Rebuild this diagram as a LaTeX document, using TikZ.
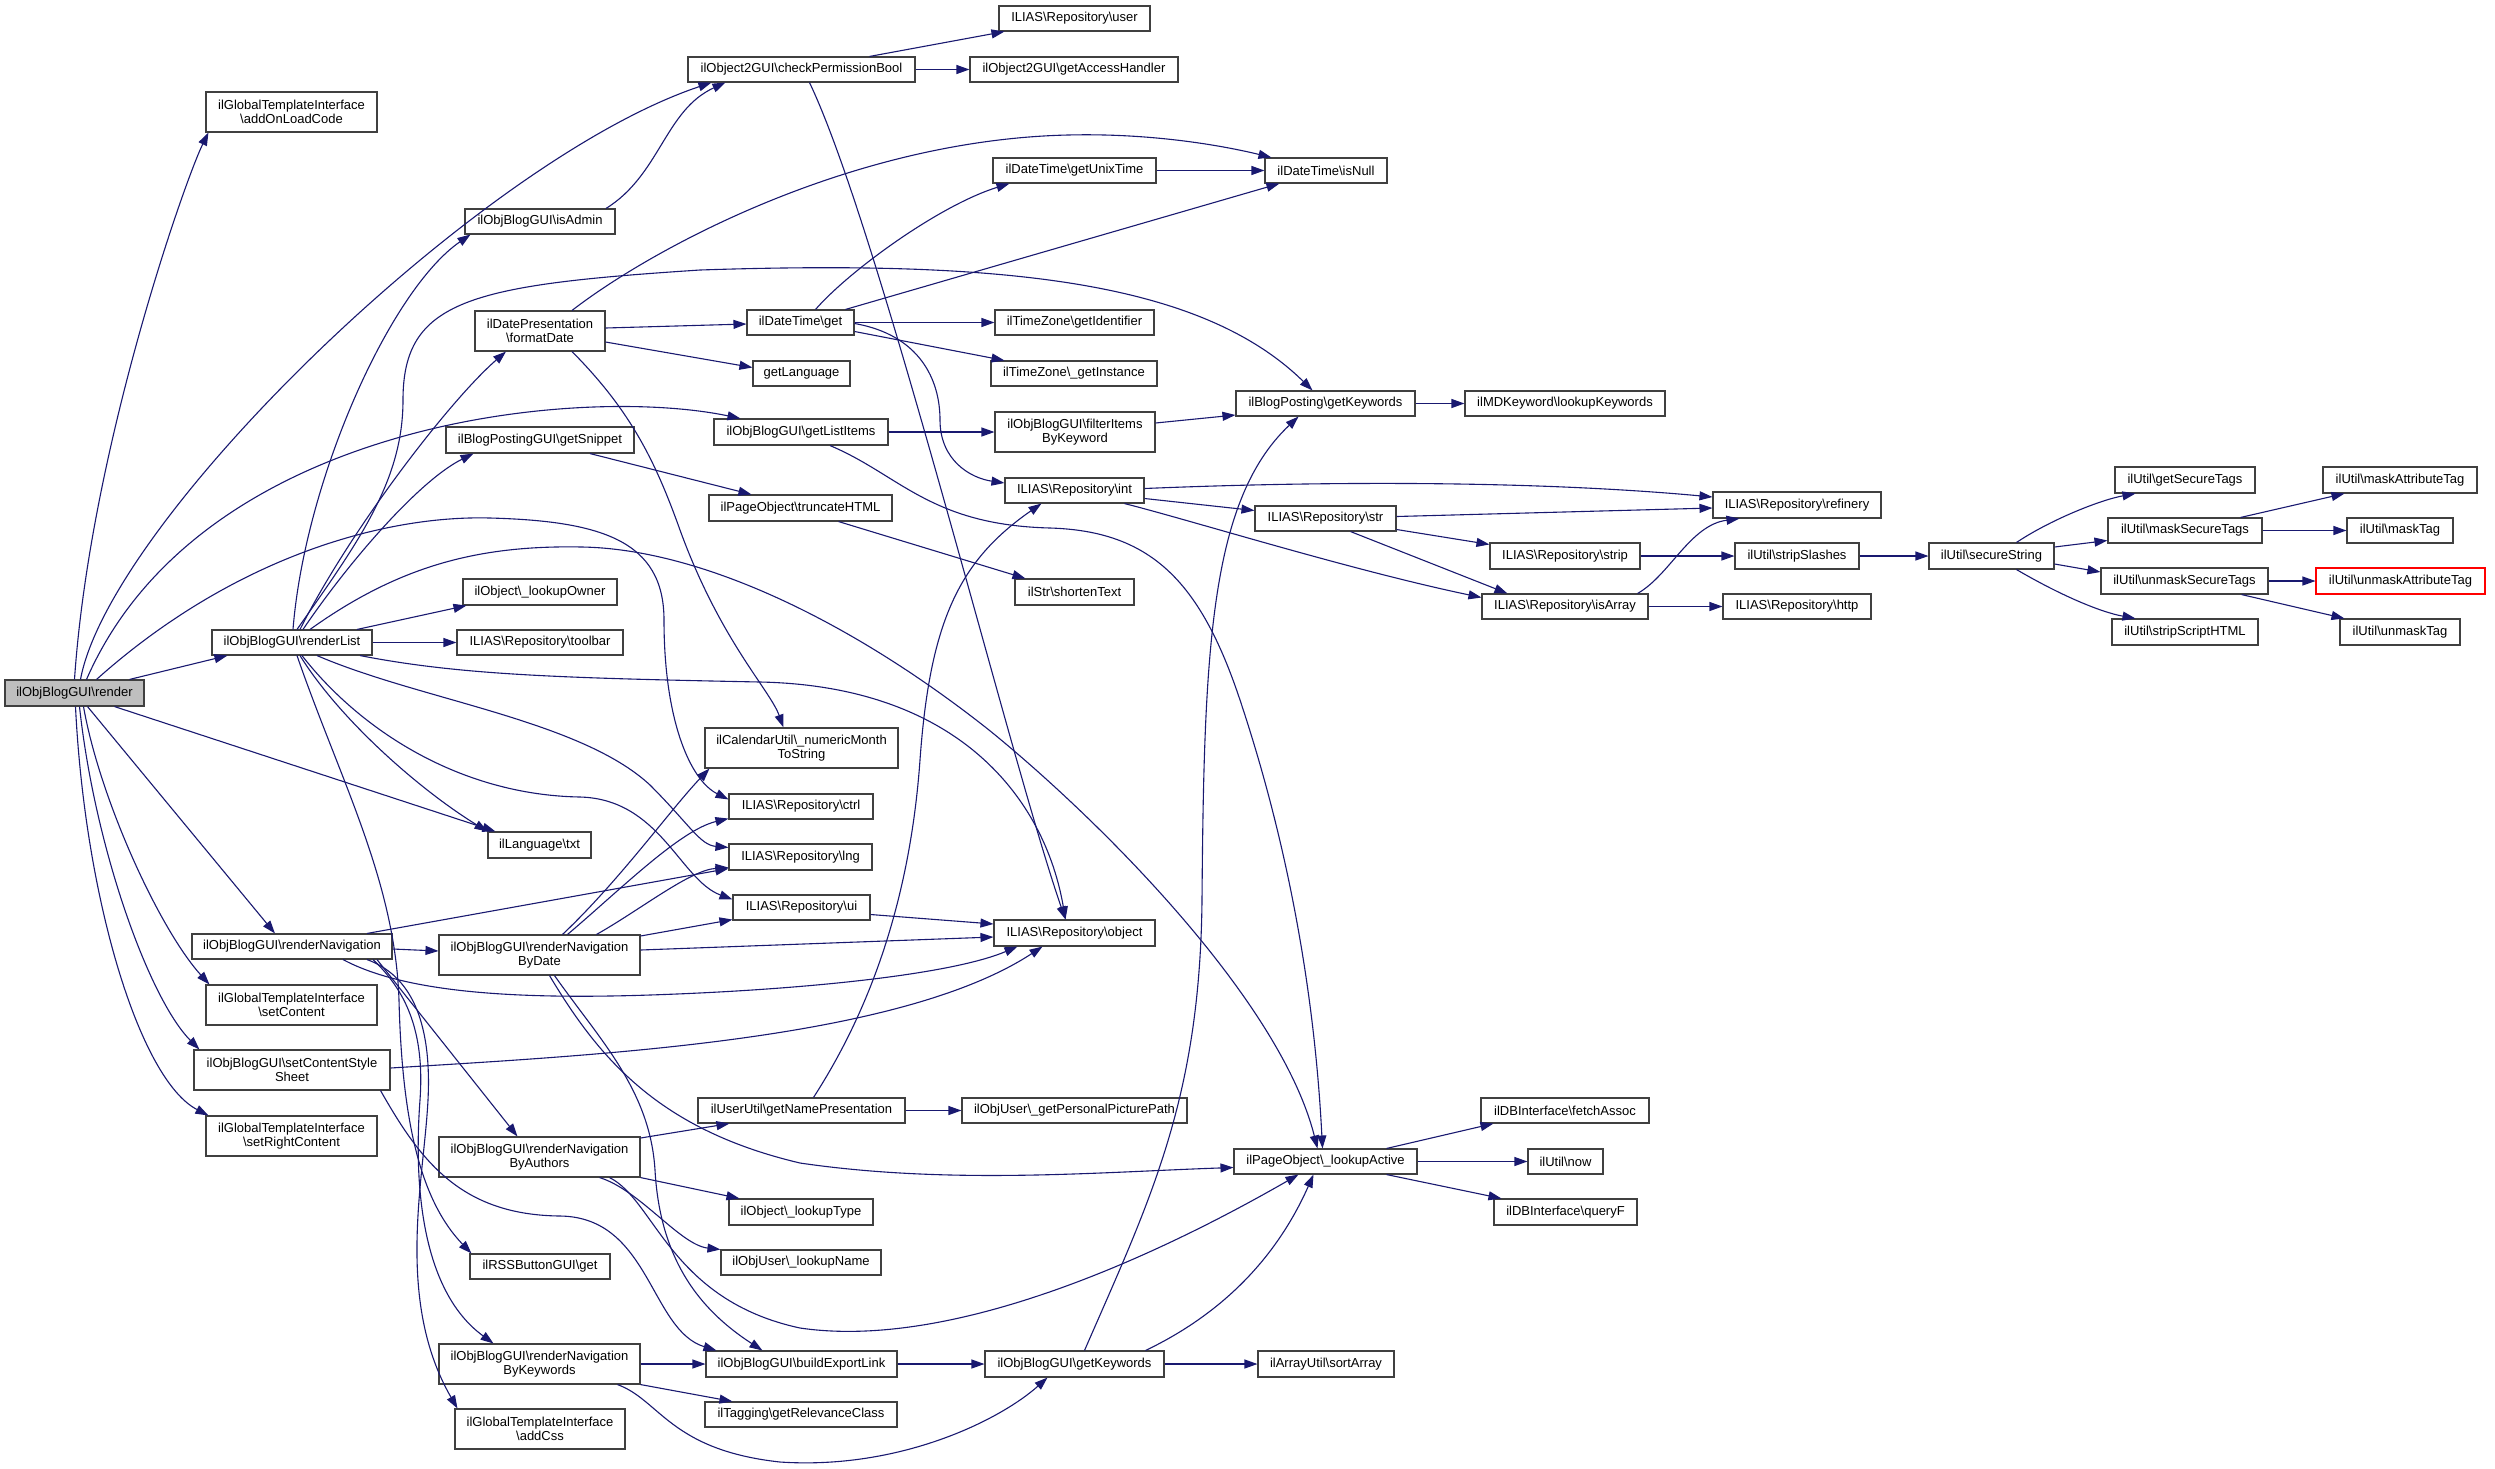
\documentclass[tikz,border=0pt]{standalone}
\usepackage{fontspec}
\setmainfont{Liberation Sans}
\usetikzlibrary{arrows.meta}
\definecolor{edgeblue}{HTML}{191970}
\definecolor{boxline}{HTML}{404040}
\definecolor{rendergray}{HTML}{BFBFBF}
\def\mybs{\textbackslash{}}
\begin{document}
\begin{tikzpicture}[x=1pt,y=-1pt,
  box/.style={draw=boxline,line width=1.1pt,fill=white,inner sep=0pt,align=center,font=\fontsize{13pt}{14.5pt}\selectfont},
  sz/.style 2 args={minimum width=#1pt,minimum height=#2pt},
  e/.style={draw=edgeblue,line width=1.1pt,-{Triangle[length=13pt,width=9pt]}}]
\useasboundingbox[fill=white] (0,0) rectangle (2495,1468);
% nodes
\node[box,sz={139}{26},fill=rendergray] (render) at (74.5,693) {ilObjBlogGUI\mybs render};
\node[box,sz={171}{40}] (addon) at (291.5,112) {ilGlobalTemplateInterface\\ \mybs addOnLoadCode};
\node[box,sz={227}{25}] (checkPerm) at (801.5,69.5) {ilObject2GUI\mybs checkPermissionBool};
\node[box,sz={151}{25}] (user) at (1074.5,18.5) {ILIAS\mybs Repository\mybs user};
\node[box,sz={208}{25}] (access) at (1074,69.5) {ilObject2GUI\mybs getAccessHandler};
\node[box,sz={150}{25}] (isAdmin) at (540,221.5) {ilObjBlogGUI\mybs isAdmin};
\node[box,sz={163}{25}] (unix) at (1074.5,170.5) {ilDateTime\mybs getUnixTime};
\node[box,sz={122}{25}] (isNull) at (1326,170.5) {ilDateTime\mybs isNull};
\node[box,sz={130}{40}] (formatDate) at (540,331) {ilDatePresentation\\ \mybs formatDate};
\node[box,sz={107}{25}] (dtget) at (800.5,322.5) {ilDateTime\mybs get};
\node[box,sz={159}{25}] (ident) at (1074.5,322.5) {ilTimeZone\mybs getIdentifier};
\node[box,sz={166}{25}] (inst) at (1074,373.5) {ilTimeZone\mybs\_getInstance};
\node[box,sz={97}{25}] (getLang) at (801.5,373.5) {getLanguage};
\node[box,sz={174}{26}] (listItems) at (801,432) {ilObjBlogGUI\mybs getListItems};
\node[box,sz={188}{26}] (snippet) at (540,440) {ilBlogPostingGUI\mybs getSnippet};
\node[box,sz={160}{40}] (filter) at (1075,432) {ilObjBlogGUI\mybs filterItems\\ByKeyword};
\node[box,sz={179}{25}] (bpKw) at (1325.5,403.5) {ilBlogPosting\mybs getKeywords};
\node[box,sz={200}{25}] (lkKw) at (1565,403.5) {ilMDKeyword\mybs lookupKeywords};
\node[box,sz={183}{26}] (trunc) at (800.5,508) {ilPageObject\mybs truncateHTML};
\node[box,sz={139}{25}] (int) at (1074.5,490.5) {ILIAS\mybs Repository\mybs int};
\node[box,sz={168}{26}] (refinery) at (1797,505) {ILIAS\mybs Repository\mybs refinery};
\node[box,sz={141}{25}] (str) at (1325.5,518.5) {ILIAS\mybs Repository\mybs str};
\node[box,sz={150}{26}] (strip) at (1565,556) {ILIAS\mybs Repository\mybs strip};
\node[box,sz={124}{26}] (stripSl) at (1797,556) {ilUtil\mybs stripSlashes};
\node[box,sz={125}{26}] (secure) at (1991.5,556) {ilUtil\mybs secureString};
\node[box,sz={166}{25}] (isArray) at (1565,606.5) {ILIAS\mybs Repository\mybs isArray};
\node[box,sz={148}{25}] (http) at (1797,606.5) {ILIAS\mybs Repository\mybs http};
\node[box,sz={140}{26}] (getSec) at (2185,480) {ilUtil\mybs getSecureTags};
\node[box,sz={154}{25}] (maskSec) at (2185,530.5) {ilUtil\mybs maskSecureTags};
\node[box,sz={167}{26}] (unmaskSec) at (2184.5,581) {ilUtil\mybs unmaskSecureTags};
\node[box,sz={146}{26}] (stripScr) at (2185,632) {ilUtil\mybs stripScriptHTML};
\node[box,sz={154}{26}] (maskAttr) at (2400,480) {ilUtil\mybs maskAttributeTag};
\node[box,sz={106}{25}] (maskTag) at (2400,530.5) {ilUtil\mybs maskTag};
\node[box,sz={169}{26},draw=red] (unmaskAttr) at (2400.5,581) {ilUtil\mybs unmaskAttributeTag};
\node[box,sz={120}{26}] (unmaskTag) at (2400,632) {ilUtil\mybs unmaskTag};
\node[box,sz={154}{26}] (owner) at (540,592) {ilObject\mybs\_lookupOwner};
\node[box,sz={160}{25}] (renderList) at (292,642.5) {ilObjBlogGUI\mybs renderList};
\node[box,sz={166}{25}] (toolbar) at (540,642.5) {ILIAS\mybs Repository\mybs toolbar};
\node[box,sz={119}{26}] (shorten) at (1074.5,592) {ilStr\mybs shortenText};
\node[box,sz={193}{40}] (numMonth) at (801.5,748) {ilCalendarUtil\mybs\_numericMonth\\ToString};
\node[box,sz={144}{25}] (ctrl) at (801,806.5) {ILIAS\mybs Repository\mybs ctrl};
\node[box,sz={103}{26}] (txt) at (539.5,845) {ilLanguage\mybs txt};
\node[box,sz={143}{26}] (lng) at (800.5,857) {ILIAS\mybs Repository\mybs lng};
\node[box,sz={137}{25}] (ui) at (801.5,907.5) {ILIAS\mybs Repository\mybs ui};
\node[box,sz={161}{26}] (object) at (1074.5,933) {ILIAS\mybs Repository\mybs object};
\node[box,sz={200}{25}] (renderNav) at (292,946.5) {ilObjBlogGUI\mybs renderNavigation};
\node[box,sz={201}{40}] (byDate) at (539.5,955) {ilObjBlogGUI\mybs renderNavigation\\ByDate};
\node[box,sz={171}{40}] (setContent) at (291.5,1005) {ilGlobalTemplateInterface\\ \mybs setContent};
\node[box,sz={196}{40}] (setCSS) at (292,1070) {ilObjBlogGUI\mybs setContentStyle\\Sheet};
\node[box,sz={171}{40}] (setRight) at (291.5,1136) {ilGlobalTemplateInterface\\ \mybs setRightContent};
\node[box,sz={201}{40}] (byAuthors) at (539.5,1157) {ilObjBlogGUI\mybs renderNavigation\\ByAuthors};
\node[box,sz={207}{25}] (namePres) at (801.5,1110.5) {ilUserUtil\mybs getNamePresentation};
\node[box,sz={225}{25}] (picPath) at (1074.5,1110.5) {ilObjUser\mybs\_getPersonalPicturePath};
\node[box,sz={183}{25}] (lookupActive) at (1325.5,1161.5) {ilPageObject\mybs\_lookupActive};
\node[box,sz={168}{25}] (fetch) at (1565,1110.5) {ilDBInterface\mybs fetchAssoc};
\node[box,sz={75}{25}] (now) at (1565.5,1161.5) {ilUtil\mybs now};
\node[box,sz={143}{26}] (queryF) at (1565.5,1212) {ilDBInterface\mybs queryF};
\node[box,sz={144}{26}] (lookupType) at (801,1212) {ilObject\mybs\_lookupType};
\node[box,sz={160}{25}] (lookupName) at (801,1262.5) {ilObjUser\mybs\_lookupName};
\node[box,sz={140}{25}] (rss) at (540,1266.5) {ilRSSButtonGUI\mybs get};
\node[box,sz={201}{40}] (byKw) at (539.5,1364) {ilObjBlogGUI\mybs renderNavigation\\ByKeywords};
\node[box,sz={191}{26}] (export) at (801.5,1364) {ilObjBlogGUI\mybs buildExportLink};
\node[box,sz={179}{26}] (objKw) at (1074.5,1364) {ilObjBlogGUI\mybs getKeywords};
\node[box,sz={136}{26}] (sortArray) at (1326,1364) {ilArrayUtil\mybs sortArray};
\node[box,sz={192}{25}] (relevance) at (801,1414.5) {ilTagging\mybs getRelevanceClass};
\node[box,sz={170}{40}] (addCss) at (540,1429) {ilGlobalTemplateInterface\\ \mybs addCss};
% edges from render
\draw[e] (render.north) .. controls (90,450) and (185,180) .. ([xshift=3pt]addon.south west);
\draw[e] ([xshift=6pt]render.north) .. controls (110,520) and (480,160) .. ([xshift=24pt]checkPerm.south west);
\draw[e] ([xshift=12pt]render.north) .. controls (200,420) and (580,385) .. ([xshift=27pt]listItems.north west);
\draw[e] ([xshift=22pt]render.north) .. controls (230,560) and (380,515) .. (490,518) .. controls (600,521) and (664,540) .. (664,620) .. controls (664,720) and (690,780) .. ([yshift=-6pt]ctrl.north west);
\draw[e] ([xshift=55pt]render.north) -- ([xshift=16pt]renderList.south west);
\draw[e] ([xshift=40pt]render.south) -- ([xshift=8pt]txt.north west);
\draw[e] ([xshift=13pt]render.south) -- ([xshift=-17pt]renderNav.north);
\draw[e] ([xshift=9pt]render.south) .. controls (100,800) and (160,930) .. ([xshift=4pt]setContent.north west);
\draw[e] ([xshift=5pt]render.south) .. controls (95,850) and (150,1000) .. ([xshift=6pt]setCSS.north west);
\draw[e] ([xshift=1pt]render.south) .. controls (85,900) and (140,1080) .. ([xshift=3pt]setRight.north west);
% checkPermissionBool
\draw[e] ([xshift=66pt]isAdmin.north) .. controls (660,175) and (665,110) .. ([xshift=38pt]checkPerm.south west);
\draw[e] ([xshift=68pt]checkPerm.north) -- ([xshift=6pt]user.south west);
\draw[e] (checkPerm.east) -- (access.west);
\draw[e] ([xshift=8pt]checkPerm.south) .. controls (880,230) and (1010,760) .. ([xshift=-9pt]object.north);
% renderList
\draw[e] ([xshift=1pt]renderList.north) .. controls (305,480) and (390,290) .. ([xshift=6pt]isAdmin.south west);
\draw[e] ([xshift=5pt]renderList.north) .. controls (360,540) and (403,480) .. (403,400) .. controls (403,300) and (470,285) .. (700,270) .. controls (1000,260) and (1200,280) .. ([xshift=-13pt]bpKw.north);
\draw[e] ([xshift=8pt]renderList.north) .. controls (350,530) and (450,400) .. ([xshift=-34pt]formatDate.south);
\draw[e] ([xshift=11pt]renderList.north) .. controls (350,560) and (420,480) .. ([xshift=28pt]snippet.south west);
\draw[e] ([xshift=18pt]renderList.north) .. controls (400,565) and (480,545) .. (582,547) .. controls (700,549) and (850,620) .. (989,730) .. controls (1100,820) and (1280,1000) .. ([xshift=-8pt]lookupActive.north);
\draw[e] ([xshift=65pt]renderList.north) -- ([xshift=4pt]owner.south west);
\draw[e] (renderList.east) -- (toolbar.west);
\draw[e] ([xshift=68pt]renderList.south) .. controls (460,675) and (560,678) .. (760,682) .. controls (960,686) and (1045,800) .. ([xshift=-9pt]object.north);
\draw[e] ([xshift=8pt]renderList.south) .. controls (340,720) and (420,790) .. (txt.north west);
\draw[e] ([xshift=5pt]renderList.south) .. controls (340,780) and (395,880) .. (399,1000) .. controls (402,1120) and (420,1200) .. ([xshift=2pt]rss.north west);
\draw[e] ([xshift=10pt]renderList.south) .. controls (360,730) and (460,795) .. (580,797) .. controls (660,799) and (680,880) .. ([yshift=-5pt]ui.north west);
\draw[e] ([xshift=25pt]renderList.south) .. controls (420,700) and (580,720) .. (650,785) .. controls (690,825) and (700,845) .. ([yshift=-4pt]lng.north west);
% formatDate
\draw[e] ([yshift=3pt]formatDate.east) -- ([yshift=-1.5pt]dtget.west);
\draw[e] ([yshift=-11pt]formatDate.east) -- ([yshift=6pt]getLang.west);
\draw[e] ([xshift=32pt]formatDate.north) .. controls (650,250) and (850,140) .. (1068,135) .. controls (1150,133) and (1220,145) .. ([xshift=7pt]isNull.north west);
\draw[e] ([xshift=32pt]formatDate.south) .. controls (630,410) and (655,460) .. (680,530) .. controls (720,640) and (770,690) .. ([xshift=-18pt]numMonth.north);
% ilDateTime get
\draw[e] ([xshift=15pt]dtget.north) .. controls (850,270) and (940,205) .. ([xshift=17pt]unix.south west);
\draw[e] ([xshift=45pt]dtget.north) -- ([xshift=15pt]isNull.south west);
\draw[e] (dtget.east) -- (ident.west);
\draw[e] ([yshift=-9pt]dtget.east) -- ([xshift=14pt]inst.north west);
\draw[e] ([yshift=-1pt]dtget.east) .. controls (920,335) and (940,380) .. (940,420) .. controls (940,460) and (970,478) .. ([yshift=7.5pt]int.west);
\draw[e] (unix.east) -- (isNull.west);
% getListItems
\draw[e] (listItems.east) -- (filter.west);
\draw[e] ([xshift=29pt]listItems.south) .. controls (900,475) and (930,525) .. (1050,528) .. controls (1150,531) and (1200,580) .. (1240,700) .. controls (1290,850) and (1315,1000) .. ([xshift=-3pt]lookupActive.north);
\draw[e] ([yshift=9pt]filter.east) -- ([yshift=-11.5pt]bpKw.west);
\draw[e] (bpKw.east) -- (lkKw.west);
\draw[e] ([xshift=50pt]snippet.south) -- ([xshift=43pt]trunc.north west);
\draw[e] ([xshift=-54pt]trunc.south east) -- ([xshift=11pt]shorten.north west);
% Repository int / str
\draw[e] ([yshift=2pt]int.east) .. controls (1350,480) and (1550,482) .. ([yshift=8pt]refinery.west);
\draw[e] ([yshift=-8pt]int.east) -- ([yshift=8pt]str.west);
\draw[e] ([xshift=50pt]int.south) .. controls (1190,520) and (1350,570) .. ([yshift=9pt]isArray.west);
\draw[e] ([yshift=2pt]str.east) -- ([yshift=-3pt]refinery.west);
\draw[e] ([yshift=-11pt]str.east) -- ([yshift=-2pt]strip.north west);
\draw[e] ([xshift=25pt]str.south) -- ([xshift=26pt]isArray.north west);
\draw[e] (strip.east) -- (stripSl.west);
\draw[e] ([xshift=-11pt]isArray.north east) .. controls (1670,575) and (1690,525) .. ([xshift=27pt]refinery.south west);
\draw[e] (isArray.east) -- (http.west);
\draw[e] (stripSl.east) -- (secure.west);
% ilUtil
\draw[e] ([xshift=25pt]secure.north) .. controls (2050,520) and (2100,500) .. ([xshift=21pt]getSec.south west);
\draw[e] ([yshift=9pt]secure.east) -- ([yshift=-10pt]maskSec.west);
\draw[e] ([yshift=-8pt]secure.east) -- ([yshift=9pt]unmaskSec.west);
\draw[e] ([xshift=25pt]secure.south) .. controls (2060,595) and (2100,612) .. ([xshift=24pt]stripScr.north west);
\draw[e] ([xshift=-22pt]maskSec.north east) -- ([xshift=22pt]maskAttr.south west);
\draw[e] (maskSec.east) -- (maskTag.west);
\draw[e] (unmaskSec.east) -- (unmaskAttr.west);
\draw[e] ([xshift=-27pt]unmaskSec.south east) -- ([xshift=5pt]unmaskTag.north west);
% ui / object
\draw[e] ([yshift=-7pt]ui.east) -- ([yshift=9pt]object.west);
\draw[e] ([yshift=5pt]byDate.east) -- ([yshift=-4pt]object.west);
% renderNavigation
\draw[e] ([xshift=75pt]renderNav.north) -- ([yshift=2pt]lng.south west);
\draw[e] ([yshift=-2.5pt]renderNav.east) -- ([yshift=4pt]byDate.west);
\draw[e] ([xshift=51pt]renderNav.south) .. controls (400,990) and (500,1000) .. (650,995) .. controls (800,990) and (950,975) .. ([xshift=-57pt]object.south);
\draw[e] ([xshift=85pt]renderNav.south) -- ([xshift=-22pt]byAuthors.north);
\draw[e] ([xshift=81pt]renderNav.south) .. controls (405,990) and (425,1030) .. (420,1100) .. controls (414,1180) and (420,1290) .. ([xshift=-46pt]byKw.north);
\draw[e] ([xshift=75pt]renderNav.south) .. controls (410,975) and (432,1020) .. (428,1100) .. controls (424,1180) and (395,1300) .. ([xshift=3pt]addCss.north west);
% setContentStyleSheet
\draw[e] ([yshift=2pt]setCSS.east) .. controls (600,1055) and (900,1040) .. ([xshift=-32pt]object.south);
\draw[e] ([xshift=-10pt]setCSS.south east) .. controls (420,1160) and (460,1215) .. (560,1216) .. controls (650,1217) and (650,1330) .. ([xshift=11pt]export.north west);
% ByDate
\draw[e] ([xshift=57pt]byDate.north) .. controls (640,910) and (690,870) .. ([yshift=3pt]lng.south west);
\draw[e] ([xshift=23pt]byDate.north) .. controls (620,880) and (670,810) .. ([xshift=5pt]numMonth.south west);
\draw[e] ([xshift=28pt]byDate.north) .. controls (620,890) and (680,830) .. ([yshift=1pt]ctrl.south west);
\draw[e] ([yshift=19pt]byDate.east) -- ([yshift=1pt]ui.south west);
\draw[e] ([xshift=10pt]byDate.south) .. controls (600,1060) and (660,1130) .. (800,1163) .. controls (950,1185) and (1100,1172) .. ([yshift=-6pt]lookupActive.west);
\draw[e] ([xshift=15pt]byDate.south) .. controls (600,1040) and (650,1090) .. (655,1170) .. controls (660,1260) and (700,1310) .. ([xshift=57pt]export.north west);
% ByAuthors
\draw[e] ([yshift=19pt]byAuthors.east) -- ([xshift=32pt]namePres.south west);
\draw[e] (byAuthors.south east) -- ([xshift=11pt]lookupType.north west);
\draw[e] ([xshift=60pt]byAuthors.south) .. controls (640,1190) and (680,1245) .. (lookupName.north west);
\draw[e] ([xshift=70pt]byAuthors.south) .. controls (655,1200) and (670,1300) .. (800,1328) .. controls (950,1350) and (1150,1260) .. ([xshift=-27pt]lookupActive.south);
% ByKeywords
\draw[e] (byKw.east) -- (export.west);
\draw[e] (byKw.south east) -- ([xshift=28pt]relevance.north west);
\draw[e] ([xshift=78pt]byKw.south) .. controls (660,1400) and (670,1450) .. (780,1462) .. controls (900,1470) and (1000,1420) .. ([xshift=-27pt]objKw.south);
\draw[e] (export.east) -- (objKw.west);
% getKeywords
\draw[e] (objKw.east) -- (sortArray.west);
\draw[e] ([xshift=10pt]objKw.north) .. controls (1150,1200) and (1200,1100) .. (1202,900) .. controls (1204,650) and (1210,500) .. ([xshift=-27pt]bpKw.south);
\draw[e] ([xshift=-19pt]objKw.north east) .. controls (1230,1310) and (1280,1250) .. ([xshift=-12pt]lookupActive.south);
% user util
\draw[e] (namePres.east) -- (picPath.west);
\draw[e] ([xshift=12pt]namePres.north) .. controls (870,1010) and (910,900) .. (920,760) .. controls (930,620) and (960,560) .. ([xshift=37pt]int.south west);
% lookupActive
\draw[e] ([xshift=-31pt]lookupActive.north east) -- ([xshift=13pt]fetch.south west);
\draw[e] (lookupActive.east) -- (now.west);
\draw[e] ([xshift=-31pt]lookupActive.south east) -- ([xshift=8pt]queryF.north west);
\end{tikzpicture}
\end{document}
